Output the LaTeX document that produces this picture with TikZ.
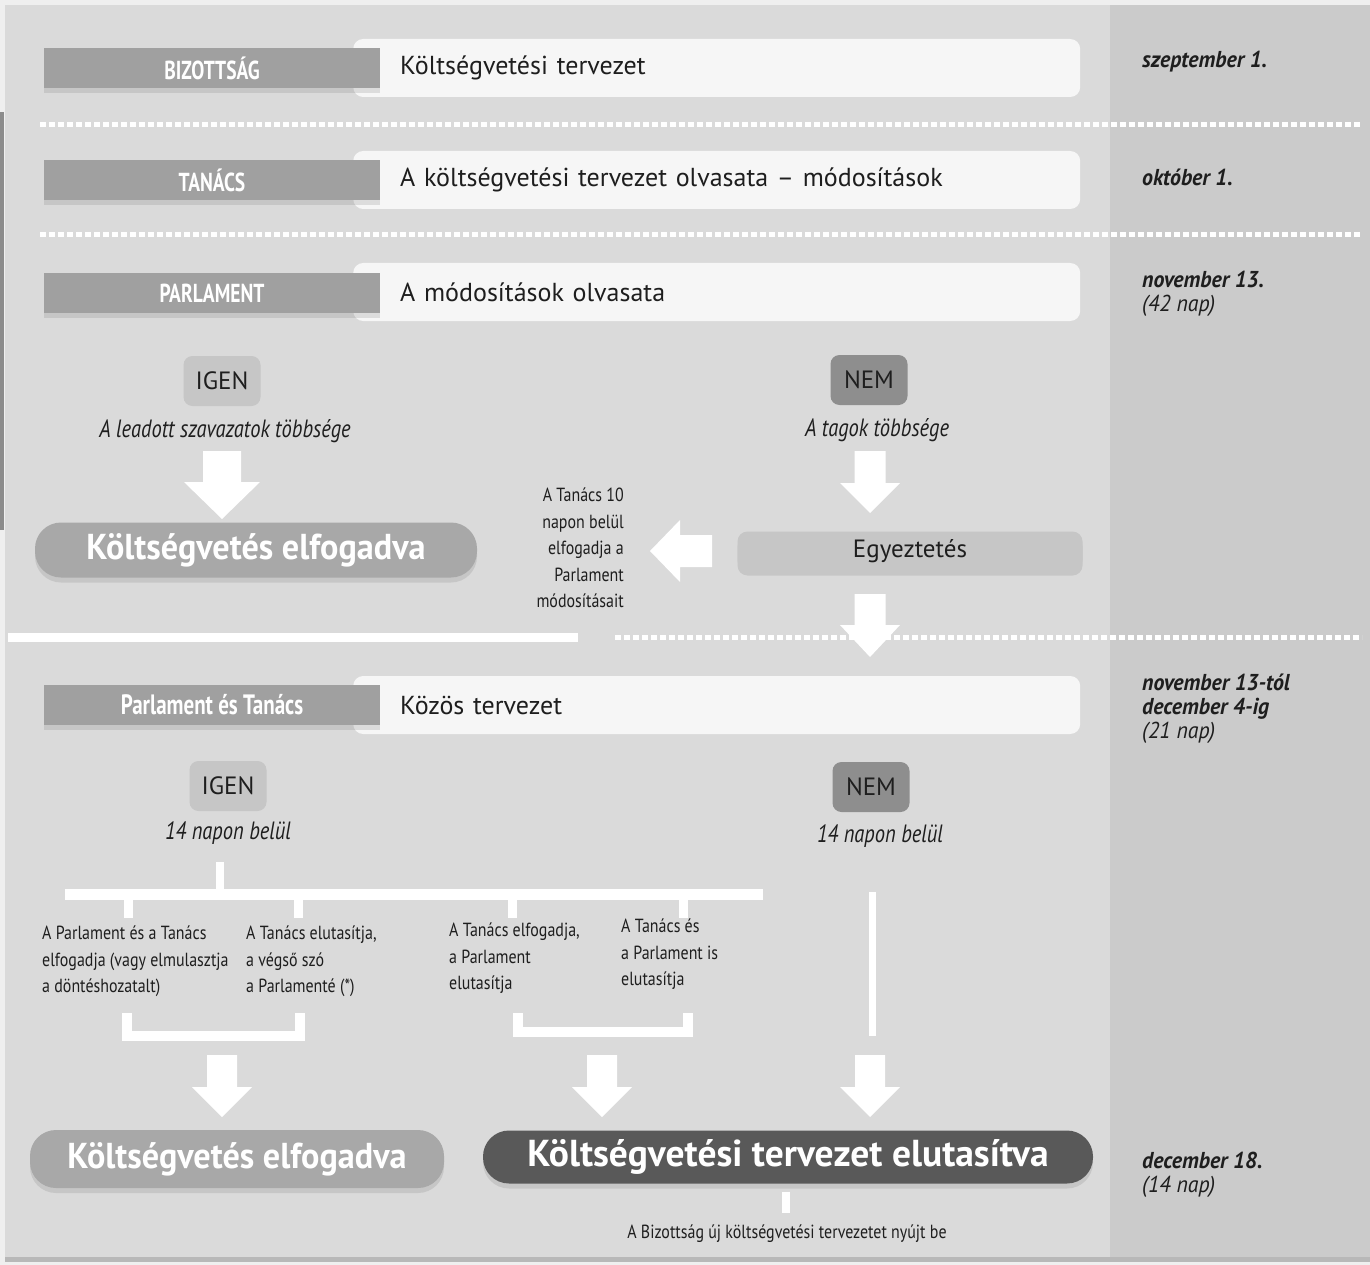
\documentclass[tikz,border=0pt]{standalone}
\usepackage{fontspec}
\setmainfont{PT Sans}
\newfontfamily\cnd[FakeStretch=0.84]{PT Sans}
\newfontfamily\lblfont[FakeStretch=0.75]{PT Sans}
\newfontfamily\capfont[FakeStretch=0.82]{PT Sans}
\newfontfamily\semicnd[FakeStretch=0.95]{PT Sans}
\usetikzlibrary{shadows}
\definecolor{outerbg}{HTML}{EFEFEF}
\definecolor{panel}{HTML}{DADADA}
\definecolor{datecol}{HTML}{CBCBCB}
\definecolor{lblgray}{HTML}{A0A0A0}
\definecolor{wboxc}{HTML}{F6F6F6}
\definecolor{lightbtn}{HTML}{C6C6C6}
\definecolor{nembtn}{HTML}{8E8E8E}
\definecolor{accbtn}{HTML}{A8A8A8}
\definecolor{rejbtn}{HTML}{595959}
\definecolor{ink}{HTML}{1E1E1E}
\tikzset{
  pics/downarr/.style n args={4}{code={
    \fill[white] (-#1,0) -- (#1,0) -- (#1,#3) -- (#2,#3) -- (0,#4) -- (-#2,#3) -- (-#1,#3) -- cycle;}},
  shad/.style={drop shadow={opacity=0.22, shadow xshift=0pt, shadow yshift=-5pt}},
  lbl/.style={fill=lblgray, minimum width=336pt, minimum height=40pt, inner sep=0pt,
    text=white, font=\lblfont\bfseries\fontsize{26}{28}\selectfont, shad},
  wbox/.style={fill=wboxc, rounded corners=10pt, minimum height=58pt, text width=633pt,
    inner xsep=47pt, inner ysep=0pt, align=left, anchor=west, text=ink,
    font=\fontsize{26}{30}\selectfont},
  datetxt/.style={anchor=north west, align=left, inner sep=0pt, text=ink,
    font=\semicnd\bfseries\itshape\fontsize{23}{24}\selectfont},
  yesno/.style={rounded corners=9pt, minimum width=77pt, minimum height=50pt, inner sep=0pt,
    text=ink, font=\fontsize{25}{28}\selectfont},
  capt/.style={inner sep=0pt, text=ink, font=\capfont\itshape\fontsize{25}{28}\selectfont},
  small/.style={inner sep=0pt, text=ink, font=\cnd\fontsize{19}{26.5}\selectfont},
  bigbtn/.style={rounded corners=26pt, inner sep=0pt, text=white,
    font=\semicnd\bfseries\fontsize{36}{40}\selectfont, shad},
  dotline/.style={white, line width=5pt, dash pattern=on 6pt off 3pt},
  tree/.style={white, line width=10pt},
}
\begin{document}
\begin{tikzpicture}[x=1pt,y=-1pt]
\useasboundingbox (0,0) rectangle (1370,1265);
% backgrounds
\fill[outerbg] (0,0) rectangle (1370,1265);
\fill[panel] (5,5) rectangle (1370,1257);
\fill[datecol] (1110,5) rectangle (1370,1257);
\fill[black!28] (5,1257) rectangle (1370,1262);
\fill[black!45] (0,112) rectangle (4,530);

% separators
\draw[dotline] (40,125) -- (1362,125);
\draw[dotline] (40,235) -- (1362,235);
\draw[white, line width=9pt] (8,637) -- (578,637);
\draw[dotline] (615,637) -- (1362,637);

% rows
\node[wbox] (w1) at (353,68) {Költségvetési tervezet};
\node[lbl] (l1) at (212,68) {BIZOTTSÁG};
\node[wbox] (w2) at (353,180) {A költségvetési tervezet olvasata – módosítások};
\node[lbl] (l2) at (212,180) {TANÁCS};
\node[wbox] (w3) at (353,292) {A módosítások olvasata};
\node[lbl] (l3) at (212,293) {PARLAMENT};
\node[wbox] (w4) at (353,705) {Közös tervezet};
\node[lbl, font=\lblfont\bfseries\fontsize{28}{30}\selectfont] (l4) at (212,705) {Parlament és Tanács};

% dates
\node[datetxt] (d1) at (1142,51) {szeptember 1.};
\node[datetxt] (d2) at (1142,169) {október 1.};
\node[datetxt] (d3) at (1142,271) {november 13.\\{\mdseries (42 nap)}};
\node[datetxt] (d4) at (1142,674) {november 13-tól\\december 4-ig\\{\mdseries (21 nap)}};
\node[datetxt] (d5) at (1142,1152) {december 18.\\{\mdseries (14 nap)}};

% middle section
\node[yesno, fill=lightbtn] (igen1) at (222,381) {IGEN};
\node[capt] (cap1) at (225,431) {A leadott szavazatok többsége};
\pic at (222,451) {downarr={19}{38}{31}{68}};
\node[bigbtn, fill=accbtn, minimum width=442pt, minimum height=55pt] (acc1) at (256,550) {Költségvetés elfogadva};

\node[small, align=right, anchor=east] (t10) at (624,548) {A Tanács 10\\napon belül\\elfogadja a\\Parlament\\módosításait};
\fill[white] (650,551) -- (680,520) -- (680,535) -- (712,535) -- (712,567) -- (680,567) -- (680,582) -- cycle;

\node[yesno, fill=nembtn] (nem1) at (869,380) {NEM};
\node[capt] (cap2) at (877,430) {A tagok többsége};
\pic at (870,451) {downarr={15.5}{30}{32}{62}};
\node[fill=lightbtn, rounded corners=10pt, minimum width=345pt, minimum height=39pt, inner sep=0pt,
  text=ink, font=\fontsize{25}{28}\selectfont, shad] (egy) at (910,551) {Egyeztetés};
\pic at (870,594) {downarr={15.5}{30}{31}{63}};

% lower section
\node[yesno, fill=lightbtn] (igen2) at (228,786) {IGEN};
\node[capt] (cap3) at (228,833) {14 napon belül};
\node[yesno, fill=nembtn] (nem2) at (871,787) {NEM};
\node[capt] (cap4) at (880,836) {14 napon belül};

\draw[tree, line width=8pt] (220,862) -- (220,890);
\draw[tree, line width=11pt] (65,894) -- (763,894);
\foreach \xx in {128,298,512,683} \draw[tree, line width=9pt] (\xx,894) -- (\xx,918);
\draw[tree, line width=7pt] (872,892) -- (872,1036);

\node[small, anchor=north west, align=left] (b1) at (42,926) {A Parlament és a Tanács\\elfogadja (vagy elmulasztja\\a döntéshozatalt)};
\node[small, anchor=north west, align=left] (b2) at (246,926) {A Tanács elutasítja,\\a végső szó\\a Parlamenté (*)};
\node[small, anchor=north west, align=left] (b3) at (449,923) {A Tanács elfogadja,\\a Parlament\\elutasítja};
\node[small, anchor=north west, align=left] (b4) at (621,919) {A Tanács és\\a Parlament is\\elutasítja};

\draw[tree, miter limit=2] (127,1013) -- (127,1036) -- (300,1036) -- (300,1013);
\draw[tree, miter limit=2] (518,1013) -- (518,1032) -- (688,1032) -- (688,1013);

\pic at (222,1055) {downarr={15}{30}{32}{62}};
\pic at (602,1055) {downarr={15}{30}{32}{62}};
\pic at (870,1055) {downarr={15}{30}{32}{62}};

\node[bigbtn, fill=accbtn, minimum width=414pt, minimum height=58pt] (acc2) at (237,1159) {Költségvetés elfogadva};
\node[bigbtn, fill=rejbtn, minimum width=610pt, minimum height=53pt,
  font=\bfseries\fontsize{37.5}{40}\selectfont] (rej) at (788,1157) {Költségvetési tervezet elutasítva};
\draw[white, line width=8pt] (rej.south -| 786,0) ++(0,8) -- (786,1213);
\node[small] (newdraft) at (787,1234) {A Bizottság új költségvetési tervezetet nyújt be};
\end{tikzpicture}
\end{document}
